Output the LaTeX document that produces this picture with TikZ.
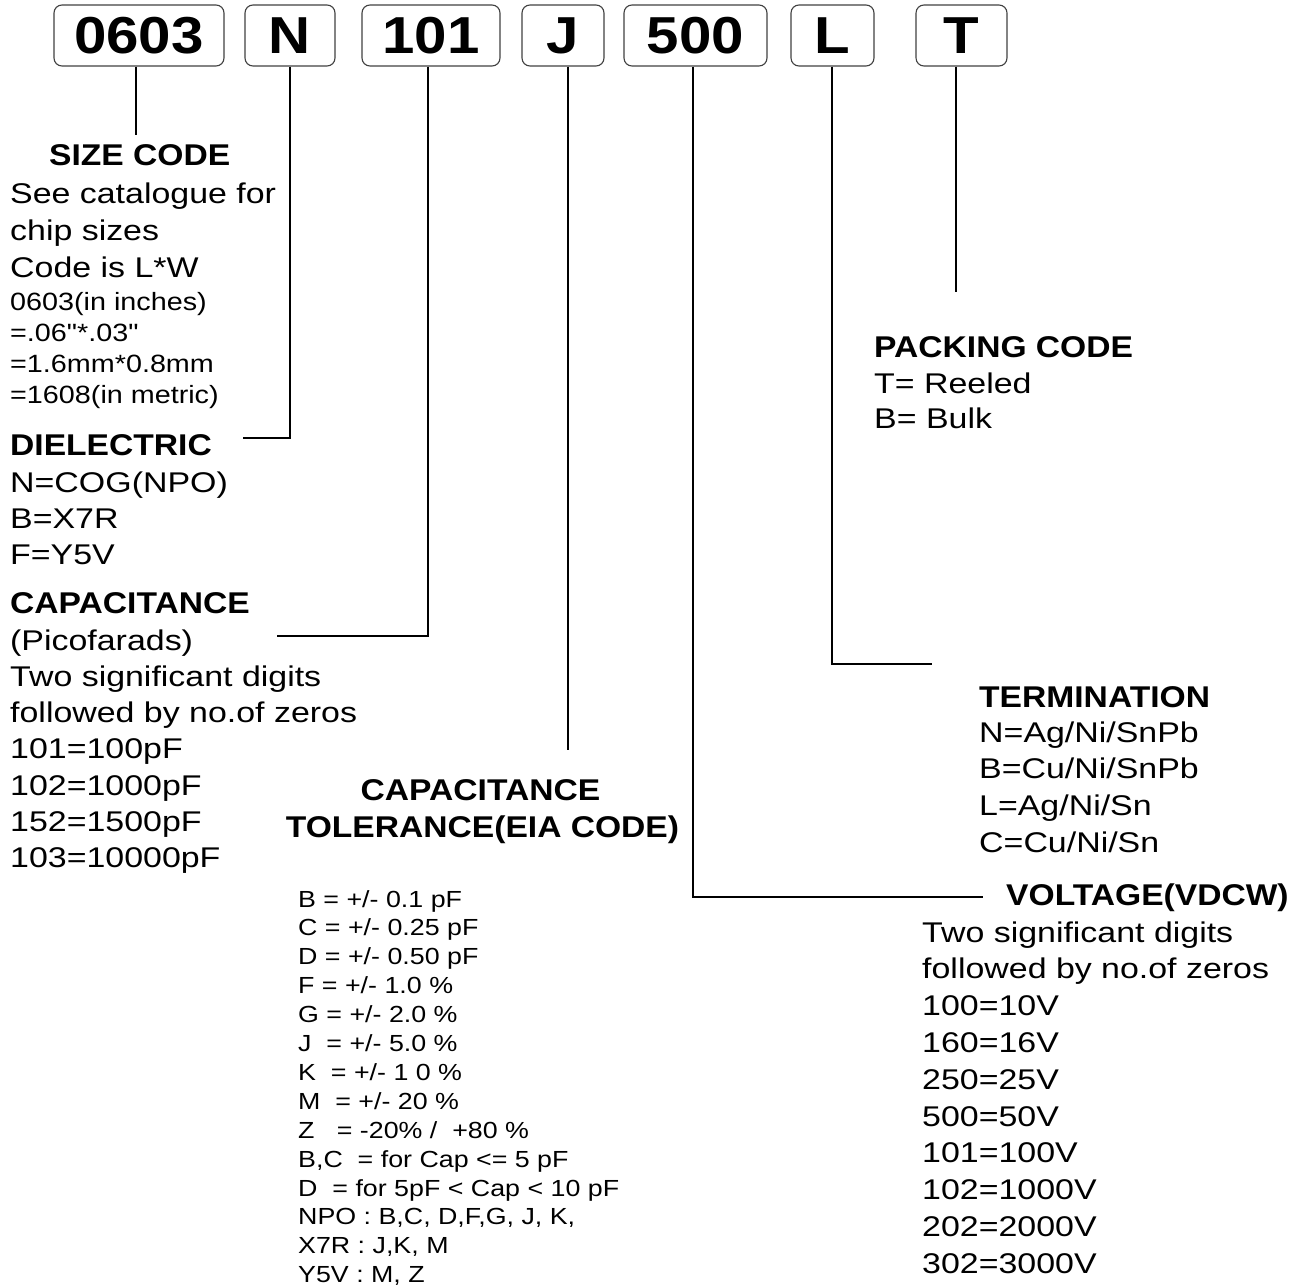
\documentclass[tikz,border=0pt]{standalone}
\usepackage{fontspec}
\setmainfont{Liberation Sans}
\newfontfamily\bodyfont[FakeStretch=1.19]{Liberation Sans}
\newfontfamily\headfont[FakeStretch=1.12]{Liberation Sans}
\newfontfamily\listfont[FakeStretch=1.15]{Liberation Sans}
\usepackage{tikz}
\usetikzlibrary{positioning}

\begin{document}
\begin{tikzpicture}[x=1pt, y=-1pt,
    codebox/.style={draw=black!75, line width=1.1pt, rounded corners=8pt,
      minimum height=61pt, inner sep=0pt,
      font=\headfont\bfseries\fontsize{52}{52}\selectfont},
    lead/.style={line width=2.2pt},
    thinlead/.style={line width=1.2pt},
    head/.style={anchor=base west, inner sep=0pt,
      font=\headfont\bfseries\fontsize{30}{36}\selectfont},
    body/.style={anchor=base west, inner sep=0pt,
      font=\bodyfont\fontsize{28.5}{36}\selectfont},
    note/.style={anchor=base west, inner sep=0pt,
      font=\listfont\fontsize{25}{30}\selectfont},
    tol/.style={anchor=base west, inner sep=0pt,
      font=\listfont\fontsize{23.3}{29}\selectfont}]
  \useasboundingbox (0,0) rectangle (1309,1287);

  % part number boxes
  \node[codebox, minimum width=170pt] (b0603) at (139,35.5) {0603};
  \node[codebox, minimum width=90pt]  (bN)    at (290,35.5) {N};
  \node[codebox, minimum width=138pt] (b101)  at (431,35.5) {101};
  \node[codebox, minimum width=82pt]  (bJ)    at (563,35.5) {J};
  \node[codebox, minimum width=143pt] (b500)  at (695.5,35.5) {500};
  \node[codebox, minimum width=83pt]  (bL)    at (832.5,35.5) {L};
  \node[codebox, minimum width=91pt]  (bT)    at (961.5,35.5) {T};

  % leader ends
  \coordinate (szEnd)   at (136,135);
  \coordinate (dielEnd) at (243,438);
  \coordinate (capEnd)  at (277,636);
  \coordinate (tolEnd)  at (568,750);
  \coordinate (voltEnd) at (983,897);
  \coordinate (termEnd) at (932,664);
  \coordinate (packEnd) at (956,292);

  \draw[thinlead] ([xshift=-3pt]b0603.south) -- (szEnd);
  \draw[lead] (bN.south) |- (dielEnd);
  \draw[lead] ([xshift=-3pt]b101.south) |- (capEnd);
  \draw[lead] ([xshift=5pt]bJ.south) -- (tolEnd);
  \draw[lead] ([xshift=-2.5pt]b500.south) |- (voltEnd);
  \draw[thinlead] ([xshift=-0.5pt]bL.south) |- (termEnd);
  \draw[lead] ([xshift=-5.5pt]bT.south) -- (packEnd);

  % size code
  \node[head] (szHead) at (49,165) {SIZE CODE};
  \foreach \t [count=\i] in {See catalogue for, chip sizes, Code is L*W}
    \node[body] (sz\i) at (10,{203+37*(\i-1)}) {\t};
  \foreach \t [count=\i] in {0603(in inches), {=.06"*.03"}, =1.6mm*0.8mm, =1608(in metric)}
    \node[note] (szn\i) at (10,{310+31.3*(\i-1)}) {\t};

  % dielectric
  \node[head] (dielHead) at (10,455) {DIELECTRIC};
  \foreach \t [count=\i] in {N=COG(NPO), B=X7R, F=Y5V}
    \node[body] (diel\i) at (10,{492+36*(\i-1)}) {\t};

  % capacitance
  \node[head] (capHead) at (10,613) {CAPACITANCE};
  \foreach \t [count=\i] in {(Picofarads), Two significant digits,
      followed by no.of zeros, 101=100pF, 102=1000pF, 152=1500pF, 103=10000pF}
    \node[body] (cap\i) at (10,{650+36.3*(\i-1)}) {\t};

  % tolerance
  \node[head, anchor=base] (tolHeadA) at (480.5,800) {CAPACITANCE};
  \node[head, anchor=base] (tolHeadB) at (482.5,837) {TOLERANCE(EIA CODE)};
  \foreach \t [count=\i] in {B = +/- 0.1 pF, C = +/- 0.25 pF, D = +/- 0.50 pF,
      F = +/- 1.0 \%, G = +/- 2.0 \%, J\ \ = +/- 5.0 \%, K\ \ = +/- 1 0 \%,
      M\ \ = +/- 20 \%, Z\ \ \ = -20\% /\ \ +80 \%, {B,C\ \ = for Cap <= 5 pF},
      D\ \ = for 5pF < Cap < 10 pF, {NPO : B,C, D,F,G, J, K,}, {X7R : J,K, M},
      {Y5V : M, Z}}
    \node[tol] (tol\i) at (298,{907+28.9*(\i-1)}) {\t};

  % packing
  \node[head] (packHead) at (874,357) {PACKING CODE};
  \node[body] (pack1) at (874,393) {T= Reeled};
  \node[body] (pack2) at (874,428) {B= Bulk};

  % termination
  \node[head] (termHead) at (979,707) {TERMINATION};
  \foreach \t [count=\i] in {N=Ag/Ni/SnPb, B=Cu/Ni/SnPb, L=Ag/Ni/Sn, C=Cu/Ni/Sn}
    \node[body] (term\i) at (979,{742+36.7*(\i-1)}) {\t};

  % voltage
  \node[head] (voltHead) at (1006,905) {VOLTAGE(VDCW)};
  \foreach \t [count=\i] in {Two significant digits, followed by no.of zeros,
      100=10V, 160=16V, 250=25V, 500=50V, 101=100V, 102=1000V, 202=2000V, 302=3000V}
    \node[body] (volt\i) at (922,{942+36.8*(\i-1)}) {\t};
\end{tikzpicture}
\end{document}
